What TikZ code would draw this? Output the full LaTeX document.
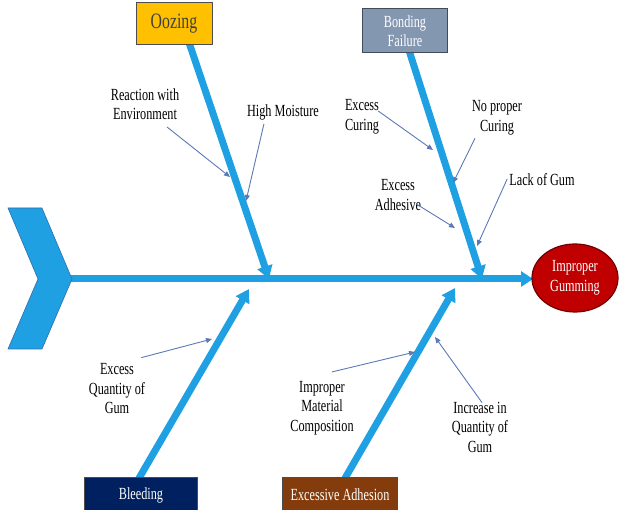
\documentclass[tikz,border=0pt]{standalone}
\usepackage{fontspec}
\setmainfont[FakeStretch=0.72]{Liberation Serif}
\usepackage{tikz}
\usetikzlibrary{shapes.geometric, arrows.meta, calc, backgrounds}

\definecolor{boneblue}{HTML}{1FA0E2}
\definecolor{boneedge}{HTML}{2F6FB0}
\definecolor{hintblue}{HTML}{5B79B4}
\definecolor{oozefill}{HTML}{FFC000}
\definecolor{bondfill}{HTML}{8497B0}
\definecolor{bleedfill}{HTML}{002060}
\definecolor{adhfill}{HTML}{843C0C}
\definecolor{effectfill}{HTML}{C00000}

\begin{document}
\begin{tikzpicture}[
    % GLOBAL CFG
    x=1pt, y=-1pt,
    font=\fontsize{17}{19.5}\selectfont,
    % Styles
    cause/.style={% For the category boxes
        rectangle,
        draw=black!70,
        line width=1pt,
        text=white,
        align=center,
        inner sep=2pt,
        },
    effect/.style={% For the problem at the head
        ellipse,
        draw=effectfill!60!black,
        line width=1.2pt,
        fill=effectfill,
        text=white,
        align=center,
        minimum width=86pt,
        minimum height=68pt,
        inner sep=0pt,
        },
    why/.style={% For the sub causes
        align=center,
        inner sep=1pt,
        },
    bone/.style={% Thick blue bones
        line width=7pt,
        draw=boneblue,
        -{Triangle[length=13pt,width=15pt]},
        shorten <=-8pt,
        },
    hint/.style={% Thin arrows towards the bones
        draw=hintblue,
        line width=0.9pt,
        -{Triangle[length=6pt,width=5pt]},
        }
    ]

    \useasboundingbox (0,0) rectangle (621,510);

    % Draw the tail
    \filldraw [fill=boneblue, draw=boneedge, line width=0.6pt]
        (8,208) -- (42,208) -- (72,279) -- (42,349) -- (8,349) -- (38,279) -- cycle;

    % Draw the head named effect
    \node [effect] (effect) at (575,278) {Improper\\Gumming};

    % Draw category boxes
    \node [cause, fill=oozefill, text=black!75, minimum width=76pt, minimum height=42pt,
        font=\fontsize{22}{24}\selectfont] (oozing) at (174,24) {Oozing};
    \node [cause, fill=bondfill, draw=bondfill!50!black, minimum width=85pt, minimum height=44pt]
        (bonding) at (405,31) {Bonding\\Failure};
    \node [cause, fill=bleedfill, minimum width=113pt, minimum height=36pt]
        (bleeding) at (141,495) {Bleeding};
    \node [cause, fill=adhfill, minimum width=115pt, minimum height=36pt]
        (adhesion) at (340,495) {Excessive Adhesion};

    % Bone tips on the spine
    \coordinate (tail) at (70,279);
    \coordinate (head) at (533,279);
    \coordinate (oozTip) at (269,279);
    \coordinate (bondTip) at (482,279);
    \coordinate (bleedTip) at (249,289);
    \coordinate (adhTip) at (455,288);

    % Sub causes
    \node [why] (react) at (145,104) {Reaction with\\Environment};
    \node [why] (moist) at (283,112) {High Moisture};
    \node [why] (excur) at (362,117) {Excess\\Curing};
    \node [why] (nocur) at (497,118) {No proper\\Curing};
    \node [why] (lack) at (542,180) {Lack of Gum};
    \node [why] (exadh) at (398,195) {Excess\\Adhesive};
    \node [why] (exqty) at (117,389) {Excess\\Quantity of\\Gum};
    \node [why] (impmat) at (322,408) {Improper\\Material\\Composition};
    \node [why] (incqty) at (480,427) {Increase in\\Quantity of\\Gum};

    % Where the thin arrows hit the bones
    \coordinate (reactHit) at (230,177);
    \coordinate (moistHit) at (246,201);
    \coordinate (excurHit) at (433,150);
    \coordinate (nocurHit) at (453,183);
    \coordinate (lackHit) at (477,246);
    \coordinate (exadhHit) at (455,228);
    \coordinate (exqtyHit) at (212,339);
    \coordinate (impmatHit) at (415,352);
    \coordinate (incqtyHit) at (435,337);

% Start connecting all.
    \begin{pgfonlayer}{background}
    \draw [bone, shorten <=0pt, -{Triangle[length=12pt,width=15pt]}] (tail) -- (head);
    \draw [bone] ($(oozing.south)+(16,0)$) -- (oozTip);
    \draw [bone] ($(bonding.south)+(5,0)$) -- (bondTip);
    \draw [bone] ($(bleeding.north)+(-1,0)$) -- (bleedTip);
    \draw [bone] ($(adhesion.north)+(6,0)$) -- (adhTip);
    \end{pgfonlayer}

    % Thin arrows
    \draw [hint] (167,127) -- (reactHit);
    \draw [hint] (moist.south west) ++(18,3) -- (moistHit);
    \draw [hint] (excur.east) ++(-2,-6) -- (excurHit);
    \draw [hint] (nocur.south) ++(-22,2) -- (nocurHit);
    \draw [hint] (lack.west) ++(-1,-1) -- (lackHit);
    \draw [hint] (exadh.east) ++(-6,9) -- (exadhHit);
    \draw [hint] (exqty.north east) ++(-5,-5) -- (exqtyHit);
    \draw [hint] (impmat.north) ++(10,-8) -- (impmatHit);
    \draw [hint] (incqty.north) ++(2,2) -- (incqtyHit);

\end{tikzpicture}
\end{document}
